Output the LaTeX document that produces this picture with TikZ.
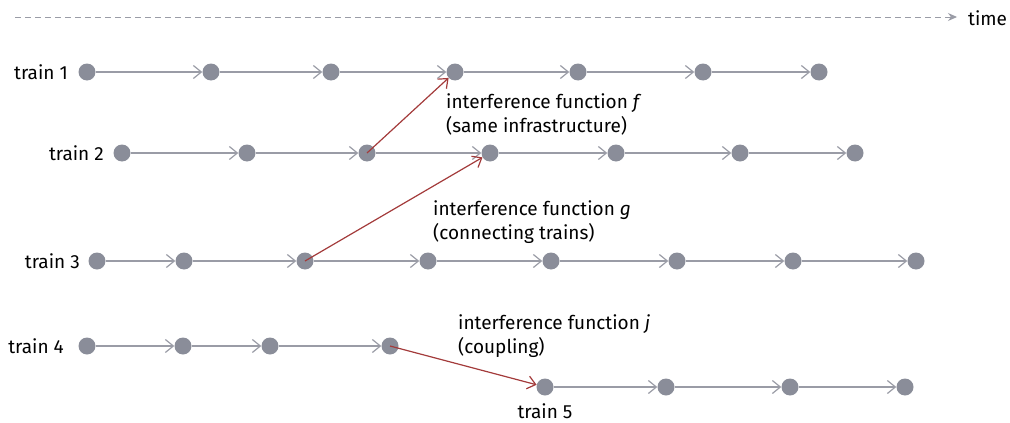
\documentclass[tikz,border=0pt]{standalone}
\usepackage{fontspec}
\setmainfont{Fira Sans}
\usetikzlibrary{arrows.meta}
\definecolor{dotgray}{HTML}{8A8D99}
\definecolor{linegray}{HTML}{9A9CA6}
\definecolor{redline}{HTML}{A33B3B}
\begin{document}
\begin{tikzpicture}[x=1pt,y=-1pt,
  dot/.style={circle,fill=dotgray,inner sep=0pt,minimum size=17pt},
  flow/.style={draw=linegray,line width=1.2pt,-{Straight Barb[length=8pt,width=13pt,line width=1.2pt]}},
  infl/.style={draw=redline,line width=1.2pt,-{Straight Barb[length=8pt,width=13pt,line width=1.2pt]}},
  lbl/.style={font=\fontsize{19}{23}\selectfont,inner sep=0pt},
  txt/.style={font=\fontsize{19}{24.5}\selectfont,inner sep=0pt,align=left,anchor=north west}]
\useasboundingbox (0,0) rectangle (1010,423);
% time axis
\coordinate (t0) at (15,17);
\coordinate (t1) at (957,17);
\draw[linegray,line width=1pt,dash pattern=on 6pt off 4pt,-{Stealth[length=9pt,width=8pt]}] (t0) -- (t1);
\node[lbl,anchor=west] (time) at (968,18) {time};
% train 1
\node[lbl,anchor=east] (l1) at (68,72) {train 1};
\foreach \i/\x in {1/87,2/211,3/331,4/455,5/578,6/703,7/819} \node[dot] (a\i) at (\x,72) {};
% train 2
\node[lbl,anchor=east] (l2) at (104,153) {train 2};
\foreach \i/\x in {1/122,2/247,3/367,4/490,5/616,6/740,7/855} \node[dot] (b\i) at (\x,153) {};
% train 3
\node[lbl,anchor=east] (l3) at (80,261) {train 3};
\foreach \i/\x in {1/97,2/184,3/305,4/428,5/551,6/677,7/793,8/916} \node[dot] (c\i) at (\x,261) {};
% train 4
\node[lbl,anchor=east] (l4) at (64,346) {train 4};
\foreach \i/\x in {1/87,2/183,3/270,4/390} \node[dot] (d\i) at (\x,346) {};
% train 5
\foreach \i/\x in {1/545,2/666,3/790,4/905} \node[dot] (e\i) at (\x,387) {};
\node[lbl] (l5) at (545,411) {train 5};
% flows
\foreach \i [count=\j from 2] in {1,...,6} \draw[flow] (a\i) -- (a\j);
\foreach \i [count=\j from 2] in {1,...,6} \draw[flow] (b\i) -- (b\j);
\foreach \i [count=\j from 2] in {1,...,7} \draw[flow] (c\i) -- (c\j);
\foreach \i [count=\j from 2] in {1,...,3} \draw[flow] (d\i) -- (d\j);
\foreach \i [count=\j from 2] in {1,...,3} \draw[flow] (e\i) -- (e\j);
% interference
\draw[infl] (b3.center) -- (a4);
\draw[infl] (c3.center) -- (b4);
\draw[infl] (d4.center) -- (e1);
\node[txt] (tf) at (446,93) {interference function \textit{f}\\(same infrastructure)};
\node[txt] (tg) at (433,200) {interference function \textit{g}\\(connecting trains)};
\node[txt] (tj) at (458,314) {interference function \textit{j}\\(coupling)};
\end{tikzpicture}
\end{document}
